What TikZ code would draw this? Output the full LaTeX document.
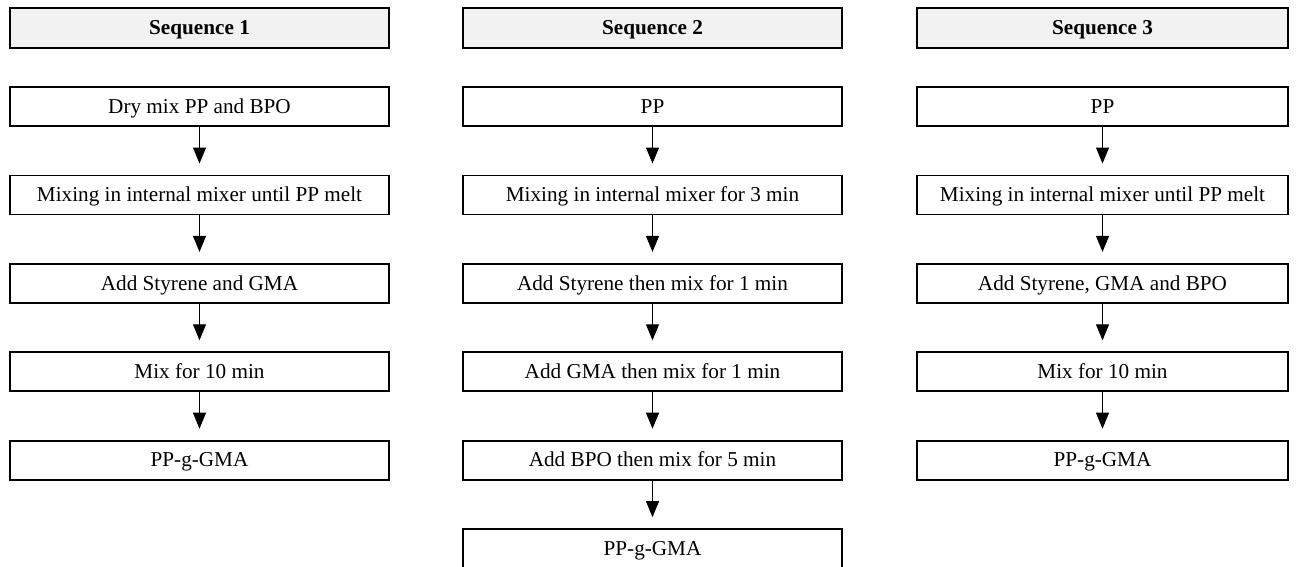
\documentclass[tikz,border=0pt]{standalone}
\usepackage{fontspec}
\setmainfont{Liberation Serif}
\usetikzlibrary{arrows.meta}
\definecolor{hdrgray}{HTML}{F2F2F2}
\tikzset{
  stepbox/.style={draw=black, line width=1.8pt, minimum width=379pt, minimum height=39pt,
    inner sep=0pt, text height=16pt, text depth=2.5pt, font=\fontsize{21.2}{25}\selectfont},
  hdrbox/.style={stepbox, fill=hdrgray, minimum height=40pt, font=\fontsize{21.2}{25}\selectfont\bfseries},
  narrow/.style={minimum width=371pt},
  arr/.style={line width=1pt, -{Triangle[length=16pt,width=13pt]}, shorten >=11pt}
}
\begin{document}
\begin{tikzpicture}[x=1pt,y=-1pt]
\useasboundingbox (0,0) rectangle (1296,566);
% column 1
\node[hdrbox] (h1) at (199.5,28) {Sequence 1};
\node[stepbox] (a1) at (199.5,106.5) {Dry mix PP and BPO};
\node[stepbox] (a2) at (199.5,194.9) {Mixing in internal mixer until PP melt};
\node[stepbox] (a3) at (199.5,283.3) {Add Styrene and GMA};
\node[stepbox] (a4) at (199.5,371.7) {Mix for 10 min};
\node[stepbox] (a5) at (199.5,460.1) {PP-g-GMA};
% column 2
\node[hdrbox] (h2) at (652.5,28) {Sequence 2};
\node[stepbox] (b1) at (652.5,106.5) {PP};
\node[stepbox] (b2) at (652.5,194.9) {Mixing in internal mixer for 3 min};
\node[stepbox] (b3) at (652.5,283.3) {Add Styrene then mix for 1 min};
\node[stepbox] (b4) at (652.5,371.7) {Add GMA then mix for 1 min};
\node[stepbox] (b5) at (652.5,460.1) {Add BPO then mix for 5 min};
\node[stepbox] (b6) at (652.5,548.5) {PP-g-GMA};
% column 3
\node[hdrbox,narrow] (h3) at (1102.5,28) {Sequence 3};
\node[stepbox,narrow] (c1) at (1102.5,106.5) {PP};
\node[stepbox,narrow] (c2) at (1102.5,194.9) {Mixing in internal mixer until PP melt};
\node[stepbox,narrow] (c3) at (1102.5,283.3) {Add Styrene, GMA and BPO};
\node[stepbox,narrow] (c4) at (1102.5,371.7) {Mix for 10 min};
\node[stepbox,narrow] (c5) at (1102.5,460.1) {PP-g-GMA};
% arrows
\draw[arr] (a1) -- (a2);
\draw[arr] (a2) -- (a3);
\draw[arr] (a3) -- (a4);
\draw[arr] (a4) -- (a5);
\draw[arr] (b1) -- (b2);
\draw[arr] (b2) -- (b3);
\draw[arr] (b3) -- (b4);
\draw[arr] (b4) -- (b5);
\draw[arr] (b5) -- (b6);
\draw[arr] (c1) -- (c2);
\draw[arr] (c2) -- (c3);
\draw[arr] (c3) -- (c4);
\draw[arr] (c4) -- (c5);
\end{tikzpicture}
\end{document}
